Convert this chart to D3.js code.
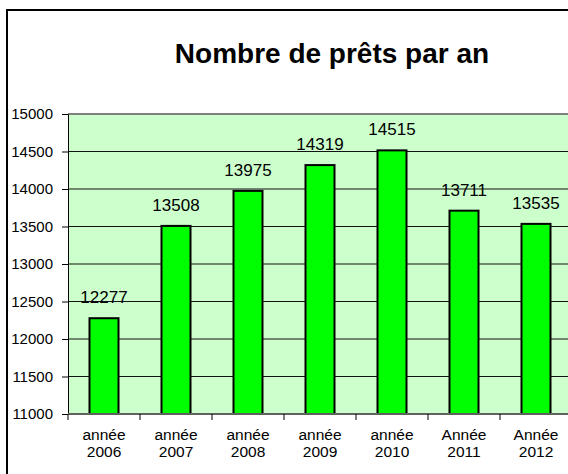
<!DOCTYPE html>
<html>
<head>
<meta charset="utf-8">
<script src="https://cdn.jsdelivr.net/npm/d3@7"></script>
<style>
  body { margin: 0; background: #fff; }
  svg { display: block; font-family: Arial, "Liberation Sans", sans-serif; }
</style>
</head>
<body>
<svg width="568" height="474"></svg>
<script>
// data
var categories = ["année 2006", "année 2007", "année 2008", "année 2009", "année 2010", "Année 2011", "Année 2012"];
var values = [12277, 13508, 13975, 14319, 14515, 13711, 13535];
var yTicks = [11000, 11500, 12000, 12500, 13000, 13500, 14000, 14500, 15000];

var svg = d3.select("svg"),
    margin = {top: 114, left: 68},
    width = 504,
    height = 300;

// outer chart border (runs off the right and bottom)
svg.append("rect")
    .attr("x", 7).attr("y", 10)
    .attr("width", 640).attr("height", 560)
    .attr("fill", "#fff")
    .attr("stroke", "#000")
    .attr("stroke-width", 2);

svg.append("text")
    .attr("x", 332).attr("y", 63)
    .attr("text-anchor", "middle")
    .style("font-size", "28px")
    .style("font-weight", "bold")
    .text("Nombre de prêts par an");

var xTickScale = d3.scaleBand().domain(categories).range([0, width]);
var y = d3.scaleLinear().domain([11000, 15000]).range([height, 0]);

var g = svg.append("g")
    .attr("transform", "translate(" + margin.left + "," + margin.top + ")");

g.append("rect")
    .attr("width", width).attr("height", height)
    .attr("fill", "#ccffcc");

// gridlines
g.selectAll(".grid")
    .data(yTicks.slice(1, -1))
  .enter().append("line")
    .attr("x1", 0).attr("x2", width)
    .attr("y1", function(d) { return y(d); })
    .attr("y2", function(d) { return y(d); })
    .attr("stroke", "#111")
    .attr("stroke-width", 1);

// top border of plot area
g.append("line")
    .attr("x1", 0).attr("x2", width)
    .attr("y1", 0).attr("y2", 0)
    .attr("stroke", "#808080").attr("stroke-width", 2);

g.selectAll(".bar")
    .data(values)
  .enter().append("rect")
    .attr("class", "bar")
    .attr("x", function(d, i) { return xTickScale(categories[i]) + (xTickScale.bandwidth() - 29) / 2; })
    .attr("width", 29)
    .attr("y", function(d) { return y(d); })
    .attr("height", function(d) { return height - y(d); })
    .attr("fill", "#00ff00")
    .attr("stroke", "#000")
    .attr("stroke-width", 2);

g.selectAll(".val")
    .data(values)
  .enter().append("text")
    .attr("x", function(d, i) { return xTickScale(categories[i]) + xTickScale.bandwidth() / 2; })
    .attr("y", function(d) { return y(d) - 15; })
    .attr("text-anchor", "middle")
    .style("font-size", "17px")
    .text(function(d) { return d; });

// y axis
var yAxis = g.append("g")
    .call(d3.axisLeft(y).tickValues(yTicks).tickSize(6).tickPadding(9).tickFormat(d3.format("d")));
yAxis.select(".domain").attr("stroke", "#000");
yAxis.selectAll("text").style("font-size", "15px").attr("fill", "#000").style("font-family", "Arial, 'Liberation Sans', sans-serif");

// x axis
var xAxis = g.append("g")
    .attr("transform", "translate(0," + height + ")");
xAxis.append("line")
    .attr("x1", 0).attr("x2", width)
    .attr("stroke", "#606060").attr("stroke-width", 2);
xAxis.selectAll(".tick")
    .data(categories.concat([null]))
  .enter().append("line")
    .attr("x1", function(d, i) { return i * xTickScale.step(); })
    .attr("x2", function(d, i) { return i * xTickScale.step(); })
    .attr("y1", 0).attr("y2", 6)
    .attr("stroke", "#000");

var labels = xAxis.selectAll(".lab")
    .data(categories)
  .enter().append("text")
    .attr("text-anchor", "middle")
    .style("font-size", "15.5px")
    .attr("transform", function(d) { return "translate(" + (xTickScale(d) + xTickScale.bandwidth() / 2) + ",0)"; });
labels.append("tspan").attr("x", 0).attr("y", 26).text(function(d) { return d.split(" ")[0]; });
labels.append("tspan").attr("x", 0).attr("y", 43).text(function(d) { return d.split(" ")[1]; });
</script>
</body>
</html>
